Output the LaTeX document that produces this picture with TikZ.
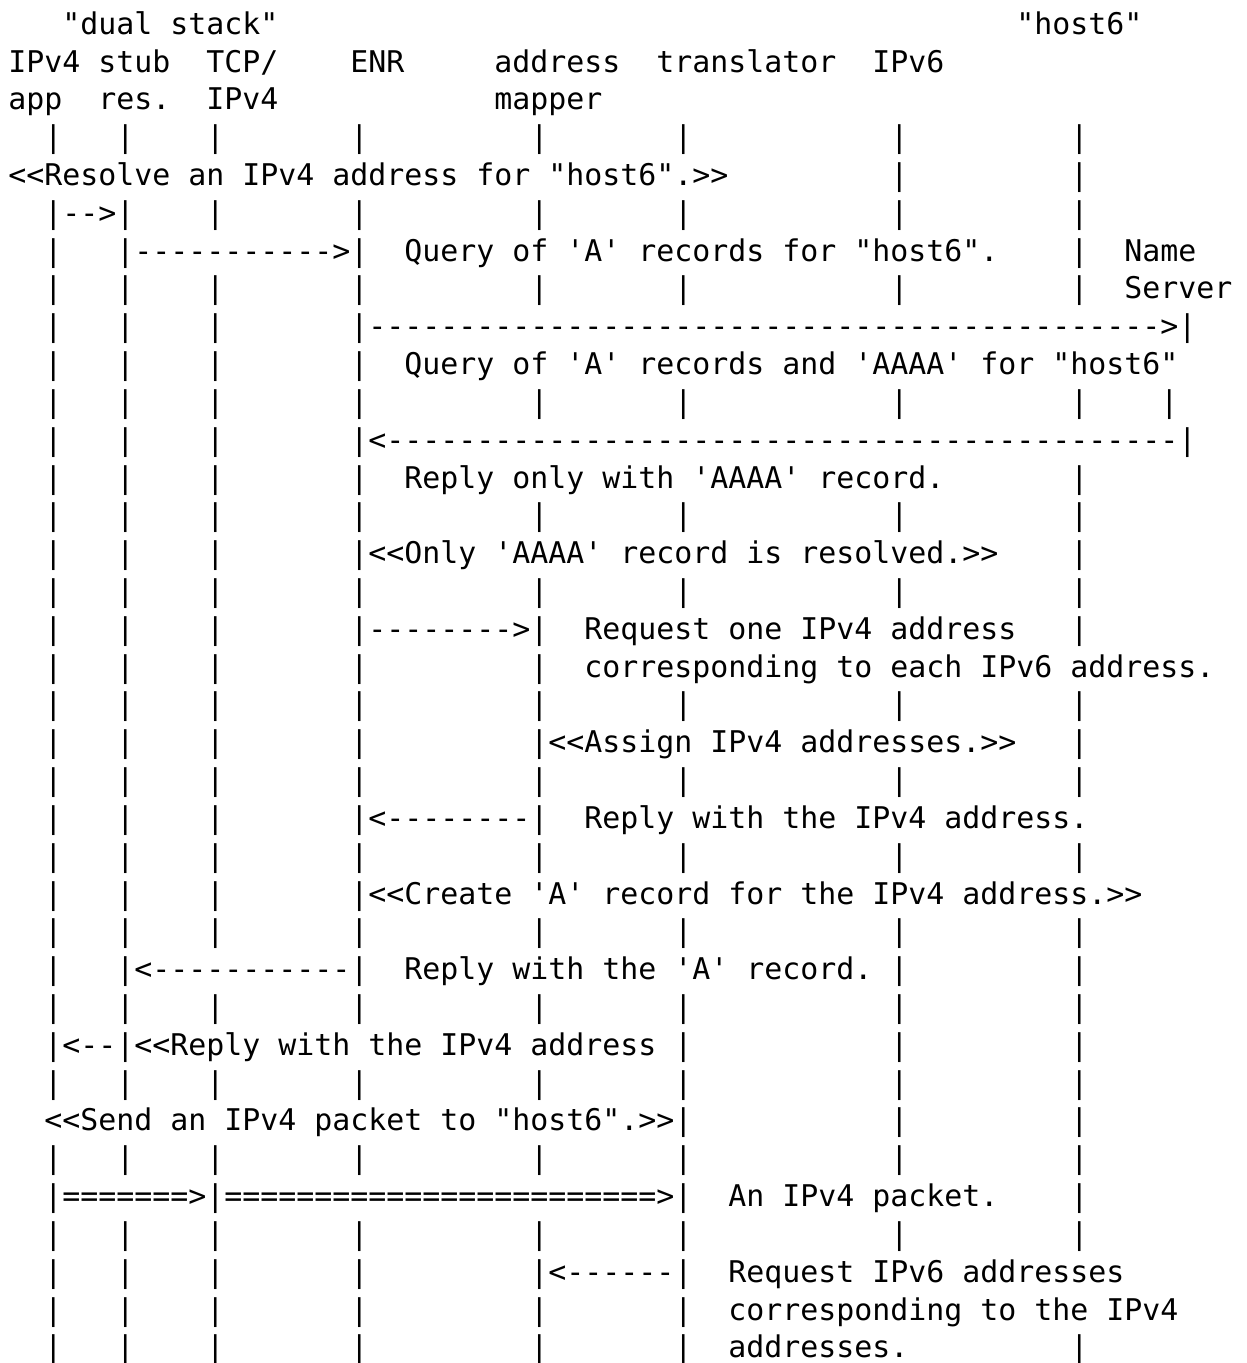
\documentclass[tikz,border=0pt]{standalone}
\usepackage{fontspec}
\setmonofont{DejaVu Sans Mono}
\tikzset{
  txt/.style={anchor=base west, inner sep=0pt, outer sep=0pt, text=black,
    font=\ttfamily\fontsize{29.9pt}{36pt}\selectfont},
}
% line k (1-based), column c
\newcommand\seg[3]{\node[txt] (t-#1-#2) at ({8.3+#2*18},{-(34.18+(#1-1)*37.82)}) {#3};}
\newcommand\bars[2]{\foreach \c in {#2}{\node[txt] (b-#1-\c) at ({8.3+\c*18},{-(34.18+(#1-1)*37.82)}) {|};}}
\begin{document}
\begin{tikzpicture}[x=1pt,y=1pt]
\fill[white] (0,0) rectangle (1247,-1363);
\useasboundingbox (0,0) rectangle (1247,-1363);
% header
\seg{1}{3}{"dual stack"}
\seg{1}{56}{"host6"}
\seg{2}{0}{IPv4}\seg{2}{5}{stub}\seg{2}{11}{TCP/}\seg{2}{19}{ENR}
\seg{2}{27}{address}\seg{2}{36}{translator}\seg{2}{48}{IPv6}
\seg{3}{0}{app}\seg{3}{5}{res.}\seg{3}{11}{IPv4}\seg{3}{27}{mapper}
% 4
\bars{4}{2,6,11,19,29,37,49,59}
% 5
\seg{5}{0}{<<Resolve an IPv4 address for "host6".>>}
\bars{5}{49,59}
% 6
\seg{6}{2}{|-->|}
\bars{6}{11,19,29,37,49,59}
% 7
\bars{7}{2}
\seg{7}{6}{|----------->|}
\seg{7}{22}{Query of 'A' records for "host6".}
\bars{7}{59}
\seg{7}{62}{Name}
% 8
\bars{8}{2,6,11,19,29,37,49,59}
\seg{8}{62}{Server}
% 9
\bars{9}{2,6,11}
\seg{9}{19}{|-------------------------------------------->|}
% 10
\bars{10}{2,6,11,19}
\seg{10}{22}{Query of 'A' records and 'AAAA' for "host6"}
% 11
\bars{11}{2,6,11,19,29,37,49,59,64}
% 12
\bars{12}{2,6,11}
\seg{12}{19}{|<--------------------------------------------|}
% 13
\bars{13}{2,6,11,19}
\seg{13}{22}{Reply only with 'AAAA' record.}
\bars{13}{59}
% 14
\bars{14}{2,6,11,19,29,37,49,59}
% 15
\bars{15}{2,6,11,19}
\seg{15}{20}{<<Only 'AAAA' record is resolved.>>}
\bars{15}{59}
% 16
\bars{16}{2,6,11,19,29,37,49,59}
% 17
\bars{17}{2,6,11}
\seg{17}{19}{|-------->|}
\seg{17}{32}{Request one IPv4 address}
\bars{17}{59}
% 18
\bars{18}{2,6,11,19,29}
\seg{18}{32}{corresponding to each IPv6 address.}
% 19
\bars{19}{2,6,11,19,29,37,49,59}
% 20
\bars{20}{2,6,11,19,29}
\seg{20}{30}{<<Assign IPv4 addresses.>>}
\bars{20}{59}
% 21
\bars{21}{2,6,11,19,29,37,49,59}
% 22
\bars{22}{2,6,11}
\seg{22}{19}{|<--------|}
\seg{22}{32}{Reply with the IPv4 address.}
% 23
\bars{23}{2,6,11,19,29,37,49,59}
% 24
\bars{24}{2,6,11,19}
\seg{24}{20}{<<Create 'A' record for the IPv4 address.>>}
% 25
\bars{25}{2,6,11,19,29,37,49,59}
% 26
\bars{26}{2}
\seg{26}{6}{|<-----------|}
\seg{26}{22}{Reply with the 'A' record.}
\bars{26}{49,59}
% 27
\bars{27}{2,6,11,19,29,37,49,59}
% 28
\seg{28}{2}{|<--|<<Reply with the IPv4 address}
\bars{28}{37,49,59}
% 29
\bars{29}{2,6,11,19,29,37,49,59}
% 30
\seg{30}{2}{<<Send an IPv4 packet to "host6".>>|}
\bars{30}{49,59}
% 31
\bars{31}{2,6,11,19,29,37,49,59}
% 32
\seg{32}{2}{|=======>|========================>|}
\seg{32}{40}{An IPv4 packet.}
\bars{32}{59}
% 33
\bars{33}{2,6,11,19,29,37,49,59}
% 34
\bars{34}{2,6,11,19}
\seg{34}{29}{|<------|}
\seg{34}{40}{Request IPv6 addresses}
% 35
\bars{35}{2,6,11,19,29,37}
\seg{35}{40}{corresponding to the IPv4}
% 36
\bars{36}{2,6,11,19,29,37}
\seg{36}{40}{addresses.}
\bars{36}{59}
\end{tikzpicture}
\end{document}
